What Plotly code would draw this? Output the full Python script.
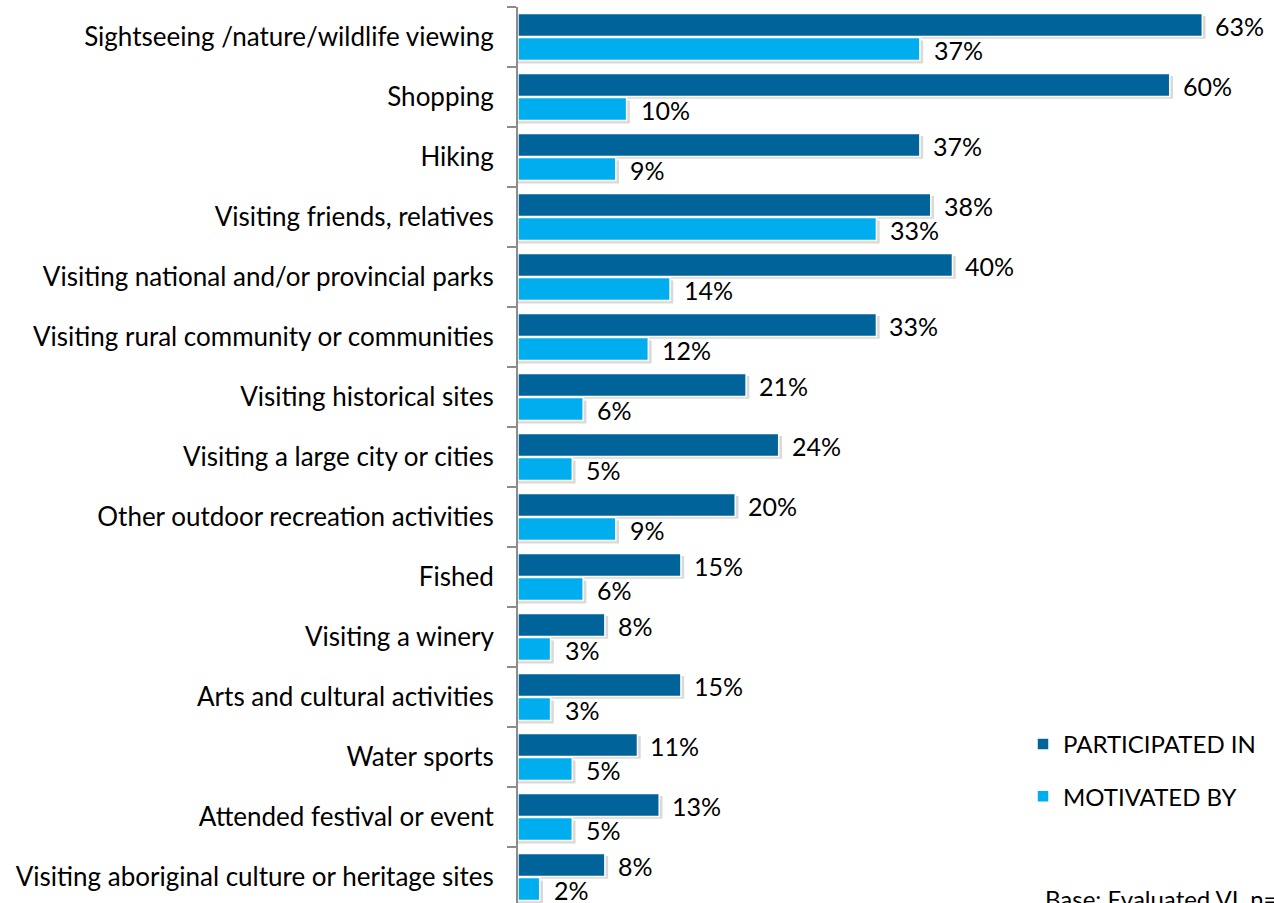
import plotly.graph_objects as go

categories = [
    "Sightseeing /nature/wildlife viewing",
    "Shopping",
    "Hiking",
    "Visiting friends, relatives",
    "Visiting national and/or provincial parks",
    "Visiting rural community or communities",
    "Visiting historical sites",
    "Visiting a large city or cities",
    "Other outdoor recreation activities",
    "Fished",
    "Visiting a winery",
    "Arts and cultural activities",
    "Water sports",
    "Attended festival or event",
    "Visiting aboriginal culture or heritage sites",
]
participated = [63, 60, 37, 38, 40, 33, 21, 24, 20, 15, 8, 15, 11, 13, 8]
motivated = [37, 10, 9, 33, 14, 12, 6, 5, 9, 6, 3, 3, 5, 5, 2]

DARK = "#00639A"
LIGHT = "#00AEEF"
FONT = "Lato"

fig = go.Figure()

# soft shadows behind bars
for vals, off in [(participated, -0.35), (motivated, 0.06)]:
    fig.add_trace(go.Bar(
        y=categories, x=[v + 0.3 for v in vals], orientation="h",
        width=0.38, offset=off,
        marker=dict(color="rgba(0,0,0,0.15)", line=dict(width=0)),
        showlegend=False, hoverinfo="skip",
    ))

fig.add_trace(go.Bar(
    y=categories, x=participated, orientation="h", name="PARTICIPATED IN",
    width=0.38, offset=-0.39, legendgroup="a",
    marker=dict(color=DARK, line=dict(color="white", width=1.5)),
))
fig.add_trace(go.Bar(
    y=categories, x=motivated, orientation="h", name="MOTIVATED BY",
    width=0.38, offset=0.01, legendgroup="b",
    marker=dict(color=LIGHT, line=dict(color="white", width=1.5)),
))

annotations = []
for c, v in zip(categories, participated):
    annotations.append(dict(x=v, y=c, text=f"{v}%", showarrow=False,
                            xanchor="left", yanchor="middle", xshift=11, yshift=11,
                            font=dict(family=FONT, size=25, color="black")))
for c, v in zip(categories, motivated):
    annotations.append(dict(x=v, y=c, text=f"{v}%", showarrow=False,
                            xanchor="left", yanchor="middle", xshift=12, yshift=-13,
                            font=dict(family=FONT, size=25, color="black")))
annotations.append(dict(xref="paper", yref="paper", x=0.695, y=0.0234, yanchor="top",
                        xanchor="left", text="Base: Evaluated VI, n=",
                        showarrow=False, font=dict(family=FONT, size=24, color="black")))

fig.update_layout(
    width=1274, height=903,
    margin=dict(l=518, r=0, t=7, b=0, autoexpand=False),
    paper_bgcolor="white", plot_bgcolor="white",
    barmode="overlay",
    font=dict(family=FONT, size=26, color="black"),
    xaxis=dict(range=[0, 69.6], visible=False, showgrid=False, zeroline=False,
               automargin=False),
    yaxis=dict(
        categoryorder="array", categoryarray=categories,
        range=[-0.5 + 896 / 60, -0.5], automargin=False,
        showline=True, linecolor="#8C8C8C", linewidth=2,
        ticks="outside", tickson="boundaries", ticklen=9, tickwidth=2, tickcolor="#8C8C8C",
        ticklabelstandoff=17, showgrid=False, zeroline=False,
        tickfont=dict(family=FONT, size=26, color="black"),
    ),
    legend=dict(x=0.668, y=0.202, xanchor="left", yanchor="top",
                traceorder="grouped", tracegroupgap=18,
                font=dict(family=FONT, size=24, color="black"),
                bgcolor="rgba(0,0,0,0)"),
    annotations=annotations,
)

fig.write_html(
    "out.html",
    config={"displayModeBar": False},
    post_script="document.body.style.margin='0';document.body.style.overflow='hidden';",
)
